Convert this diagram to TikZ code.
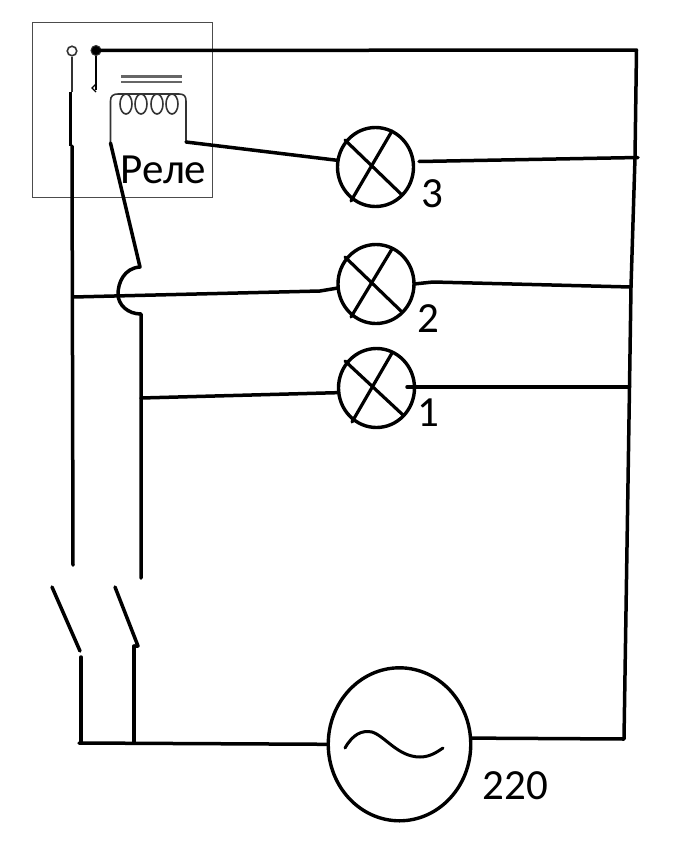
\documentclass[tikz,border=0pt]{standalone}
\usepackage{fontspec}
\setmainfont{Carlito}
\usetikzlibrary{shapes.geometric}
\tikzset{wire/.style={black,line width=3.5pt,line cap=round,line join=round},
  thinwire/.style={black!80,line width=1.6pt},
  crosswire/.style={black,line width=3.2pt,line cap=round},
  lampnode/.style={ellipse,draw=black,line width=3.4pt,minimum width=76pt,minimum height=79pt,inner sep=0pt,outer sep=0pt},
  labelnode/.style={inner sep=0pt,font=\fontsize{43}{43}\selectfont}}

\begin{document}
\begin{tikzpicture}[x=1pt,y=-1pt]
  \useasboundingbox (0,0) rectangle (700,841);
  % relay
  \draw[black!70,line width=0.9pt] (32,22) rectangle (212,197);
  \node[circle,draw=black!80,line width=1.6pt,minimum size=9.5pt,inner sep=0pt] (termleft) at (72,51) {};
  \node[circle,draw=black!80,fill=black,line width=1pt,minimum size=10pt,inner sep=0pt] (termright) at (96,50.5) {};
  \draw[thinwire] (termleft.south) -- (72,92);
  \draw[black,line width=2.6pt] (70.5,92) -- (70.5,146);
  \draw[black,line width=1.9pt] (termright.south) -- (96,90);
  \draw[black,line width=1.4pt] (96,84) -- (92,88) -- (96,92);
  \draw[black!60,line width=2.2pt] (121,76.5) -- (181.5,76.5);
  \draw[black!60,line width=2.2pt] (121,82.3) -- (181.5,82.3);
  \coordinate (coilleft) at (110.5,143);
  \coordinate (coilright) at (186,142);
  \draw[thinwire] (coilleft) -- (110.5,101) .. controls (110.5,96) and (113,94) .. (118,94) -- (179,94) .. controls (184,94) and (186,96) .. (186,101) -- (coilright);
  \draw[thinwire] (126,104) ellipse (6 and 10);
  \draw[thinwire] (141,104) ellipse (6 and 10);
  \draw[thinwire] (157,104) ellipse (6 and 10);
  \draw[thinwire] (172,104) ellipse (6 and 10);
  \node[labelnode] (rele) at (163.5,170) {Реле};
  % lamps
  \node[lampnode] (lamp3) at (375.5,167) {};
  \node[lampnode] (lamp2) at (376,284) {};
  \node[lampnode] (lamp1) at (376.5,388) {};
  \draw[crosswire] (345,140) -- (402,195);
  \draw[crosswire] (392,131) -- (351,201);
  \draw[crosswire] (345,257) -- (402,312);
  \draw[crosswire] (392,249) -- (351,317);
  \draw[crosswire] (345,361) -- (403,415);
  \draw[crosswire] (392,353) -- (352,422);
  \node[labelnode] (num3) at (432,194) {3};
  \node[labelnode] (num2) at (428.5,319) {2};
  \node[labelnode] (num1) at (428,413) {1};
  % source
  \node[ellipse,draw=black,line width=3.4pt,minimum width=142.5pt,minimum height=153pt,inner sep=0pt,outer sep=0pt] (source) at (399.5,744.3) {};
  \draw[black,line width=3pt,line cap=round] (345,748) .. controls (353,734) and (362,730) .. (372,732) .. controls (385,736) and (398,757) .. (420,757) .. controls (430,757) and (437,752) .. (443,748);
  \node[labelnode] (num220) at (515.5,786) {220};
  % wires
  \coordinate (topright) at (636.5,50);
  \coordinate (right3) at (635,157.5);
  \coordinate (right2) at (631,287);
  \coordinate (right1) at (629.5,387);
  \coordinate (bottomright) at (624,739);
  \draw[wire] (termright.center) -- (topright) -- (right3) -- (right2) -- (right1) -- (bottomright) -- (source.5);
  \draw[wire] (coilright) -- (lamp3.170);
  \draw[wire] (419,161.5) -- (638,157.5);
  \draw[wire] (lamp2.east) -- (433,282) -- (right2);
  \draw[wire] (407,387) -- (right1);
  % left pole
  \coordinate (swleftup) at (73,565);
  \coordinate (swleftdown) at (81,657);
  \coordinate (busleft) at (73,297);
  \draw[wire] (72,146) -- (swleftup);
  \draw[wire] (busleft) -- (320,291) -- (lamp2.186);
  % right pole
  \coordinate (swrightup) at (141,578);
  \coordinate (swrightdown) at (134,646);
  \coordinate (busright) at (141,398);
  \draw[wire] (coilleft) -- (140,267) .. controls (124,268) and (118,283) .. (118,294) .. controls (118,305) and (128,314) .. (141,314) -- (swrightup);
  \draw[wire] (busright) -- (lamp1.187);
  % switches
  \coordinate (ground) at (79,743);
  \coordinate (groundmid) at (134,743);
  \draw[wire] (52,587) -- (80,651);
  \draw[wire] (115,587) -- (138,646) -- (swrightdown);
  \draw[wire] (swleftdown) -- (81,743);
  \draw[wire] (swrightdown) -- (groundmid);
  \draw[wire] (ground) -- (source.west);
\end{tikzpicture}
\end{document}
